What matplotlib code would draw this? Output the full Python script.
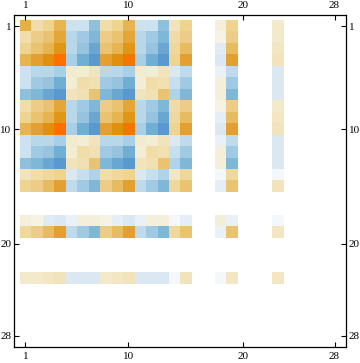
import numpy as np
import matplotlib
matplotlib.use("Agg")
import matplotlib.pyplot as plt
from matplotlib.colors import LinearSegmentedColormap

# matrix is 28x28, only these rows/cols are non-zero
n = 28
active = [1, 2, 3, 4, 5, 6, 7, 8, 9, 10, 11, 12, 13, 14, 15, 18, 19, 23]

# rows of the non-zero part, columns in the same order as `active`
r1 = [0.50, 0.17, 0.25, 0.48, -0.15, -0.15, -0.38, 0.17, 0.25, 0.48, -0.15, -0.15, -0.38, 0.12, 0.25, 0.04, 0.25, 0.08]
r2 = [0.17, 0.30, 0.36, 0.55, -0.23, -0.32, -0.43, 0.30, 0.36, 0.55, -0.23, -0.32, -0.43, 0.18, 0.30, 0.03, 0.30, 0.08]
r3 = [0.25, 0.36, 0.48, 0.68, -0.23, -0.35, -0.53, 0.36, 0.48, 0.68, -0.23, -0.35, -0.53, 0.21, 0.42, -0.08, 0.42, 0.10]
r4 = [0.48, 0.60, 0.75, 1.00, -0.29, -0.50, -0.60, 0.60, 0.75, 0.93, -0.29, -0.50, -0.60, 0.25, 0.60, -0.10, 0.60, 0.12]
r5 = [-0.15, -0.23, -0.23, -0.29, 0.07, 0.06, 0.12, -0.23, -0.23, -0.29, 0.07, 0.06, 0.12, -0.10, -0.20, -0.04, -0.20, -0.10]
r6 = [-0.15, -0.32, -0.35, -0.50, 0.06, 0.17, 0.15, -0.32, -0.35, -0.50, 0.06, 0.17, 0.15, -0.17, -0.32, 0.04, -0.32, -0.10]
r7 = [-0.38, -0.43, -0.53, -0.60, 0.12, 0.15, 0.36, -0.43, -0.53, -0.60, 0.12, 0.15, 0.36, -0.26, -0.43, 0.04, -0.43, -0.10]
r8 = [0.17, 0.30, 0.36, 0.55, -0.23, -0.32, -0.43, 0.30, 0.36, 0.55, -0.23, -0.32, -0.43, 0.18, 0.30, 0.03, 0.30, 0.08]
r9 = [0.25, 0.36, 0.48, 0.68, -0.23, -0.35, -0.53, 0.36, 0.48, 0.68, -0.23, -0.35, -0.53, 0.21, 0.42, -0.06, 0.42, 0.10]
r10 = [0.48, 0.60, 0.75, 1.00, -0.29, -0.50, -0.60, 0.60, 0.75, 0.93, -0.29, -0.50, -0.60, 0.25, 0.60, -0.10, 0.60, 0.12]
r11 = [-0.15, -0.23, -0.23, -0.29, 0.07, 0.06, 0.12, -0.23, -0.23, -0.29, 0.07, 0.06, 0.12, -0.10, -0.20, -0.04, -0.20, -0.10]
r12 = [-0.15, -0.32, -0.35, -0.50, 0.06, 0.17, 0.15, -0.32, -0.35, -0.50, 0.06, 0.17, 0.15, -0.17, -0.32, 0.04, -0.32, -0.10]
r13 = [-0.38, -0.43, -0.53, -0.60, 0.12, 0.15, 0.36, -0.43, -0.53, -0.60, 0.12, 0.15, 0.36, -0.26, -0.43, 0.04, -0.43, -0.10]
r14 = [0.12, 0.17, 0.21, 0.25, -0.10, -0.17, -0.26, 0.17, 0.21, 0.25, -0.10, -0.17, -0.26, 0.10, 0.21, -0.02, 0.21, -0.02]
r15 = [0.25, 0.30, 0.42, 0.60, -0.20, -0.32, -0.43, 0.30, 0.42, 0.60, -0.20, -0.32, -0.43, 0.21, 0.36, -0.06, 0.36, 0.12]
r18 = [0.04, 0.03, -0.08, -0.10, -0.04, 0.04, 0.04, 0.03, -0.06, -0.10, -0.04, 0.04, 0.04, -0.02, -0.06, 0.05, -0.04, -0.02]
r19 = [0.21, 0.30, 0.42, 0.60, -0.20, -0.32, -0.43, 0.30, 0.42, 0.60, -0.20, -0.32, -0.43, 0.21, 0.36, -0.04, 0.36, 0.10]
r23 = [0.08, 0.08, 0.10, 0.12, -0.10, -0.10, -0.10, 0.08, 0.10, 0.12, -0.10, -0.10, -0.10, -0.02, 0.12, -0.02, 0.10, 0.10]

rows = [r1, r2, r3, r4, r5, r6, r7, r8, r9, r10, r11, r12, r13, r14, r15, r18, r19, r23]
ticks = [1, 10, 20, 28]

M = np.zeros((n, n))
for a, row in zip(active, rows):
    for b, v in zip(active, row):
        M[a - 1, b - 1] = v
M = np.ma.masked_equal(M, 0.0)  # zeros drawn pure white

# blue (negative) -> white -> cream -> orange (positive), Mathematica-like
anchors = [(-1.0, '#2e70b8'), (-0.6, '#5a9ad0'), (-0.5, '#70aed4'), (-0.43, '#80b8d8'),
           (-0.35, '#98c4e0'), (-0.29, '#a8d0e8'), (-0.23, '#b8d8ea'), (-0.15, '#cce2ee'),
           (-0.1, '#dce8f2'), (-0.04, '#eaf2f8'), (0.0, '#ffffff'), (0.04, '#f4f0dc'),
           (0.12, '#f2e4bc'), (0.18, '#f0dca8'), (0.25, '#eed590'), (0.30, '#eecd88'),
           (0.36, '#eac470'), (0.42, '#e8bc60'), (0.48, '#e6b450'), (0.55, '#e4a838'),
           (0.60, '#e4a030'), (0.68, '#e09818'), (0.75, '#e09010'), (0.92, '#f07800'),
           (1.0, '#ff7000')]
cmap = LinearSegmentedColormap.from_list('mm', [((v + 1) / 2, c) for v, c in anchors], N=1024)
cmap.set_bad('white')

fig = plt.figure(figsize=(3.6, 3.63), dpi=100)
ax = fig.add_axes([14 / 360, 16 / 363, 332 / 360, 332 / 363])
ax.imshow(M, cmap=cmap, vmin=-1, vmax=1, interpolation='nearest',
          extent=(0.5, n + 0.5, n + 0.5, 0.5), aspect='auto')
ax.set_xlim(0, n + 1)
ax.set_ylim(n + 1, 0)

ax.set_xticks(ticks)
ax.set_yticks(ticks)
ax.tick_params(direction='in', length=3.5, width=0.8, labelsize=8,
               top=True, right=True, labeltop=True, labelright=True)
ax.tick_params(axis='x', pad=3.5)
ax.tick_params(axis='y', pad=1.8)
for lab in ax.get_xticklabels() + ax.get_yticklabels():
    lab.set_family('Liberation Serif')
for s in ax.spines.values():
    s.set_linewidth(0.9)

fig.savefig('out.png', dpi=100)
